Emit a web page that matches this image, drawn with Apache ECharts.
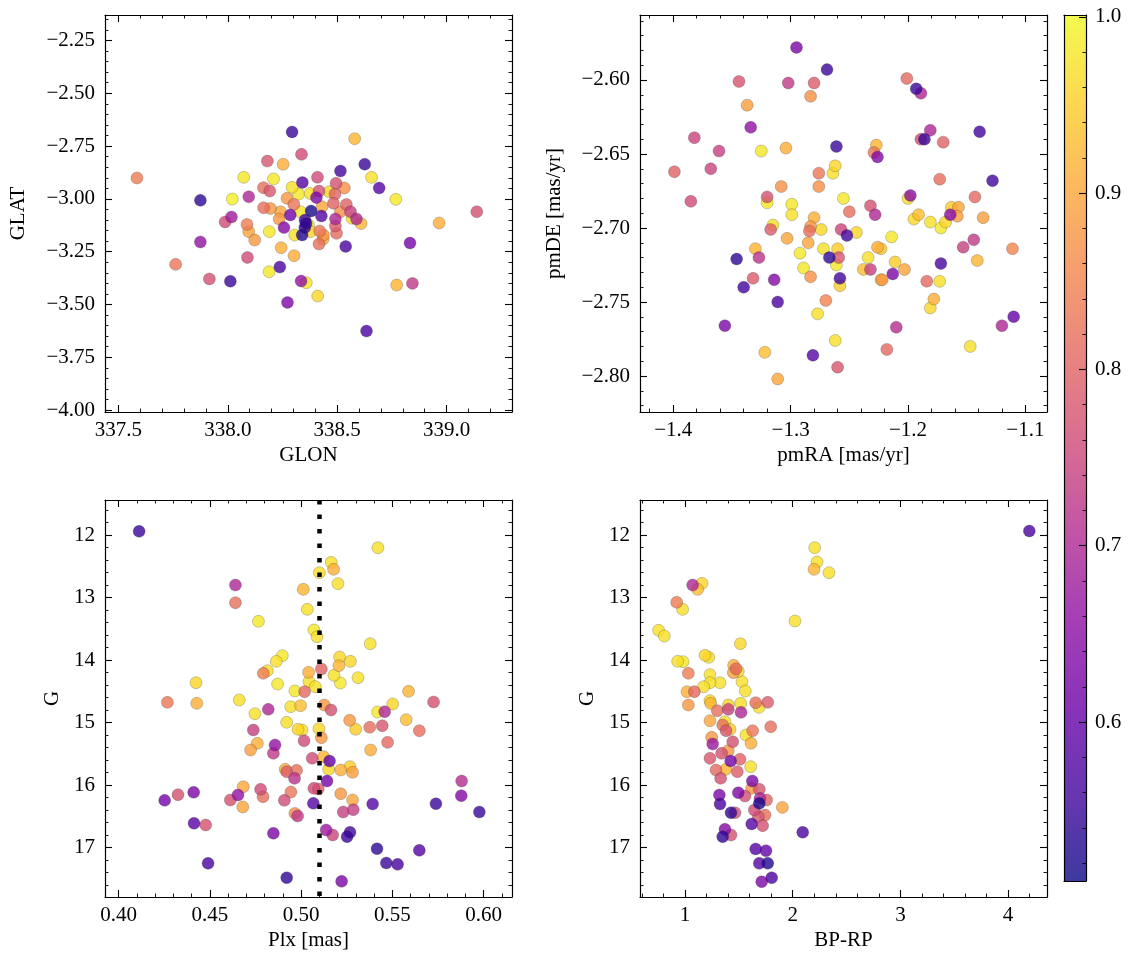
<!DOCTYPE html>
<html><head><meta charset="utf-8">
<script src="https://cdn.jsdelivr.net/npm/echarts/dist/echarts.min.js"></script>
<style>html,body{margin:0;padding:0;background:#fff}#c{width:1133px;height:965px}</style>
</head><body><div id="c"></div>
<script>
// ---------------- DATA ----------------
const P1_GLON = [337.585,338.294,338.580,338.337,338.181,338.253,338.626,338.073,338.209,338.515,
338.410,338.341,338.657,338.692,337.875,338.021,338.096,338.163,338.192,338.294,
338.324,338.271,338.417,338.495,338.533,338.490,338.463,338.768,339.138,338.966,
338.833,338.539,338.164,338.195,338.241,338.302,338.286,338.332,338.381,338.428,
338.405,338.431,338.492,338.515,338.542,338.561,338.588,338.568,338.609,338.017,
337.988,338.088,338.096,338.123,338.190,338.235,338.257,338.358,338.352,338.340,
338.306,338.378,338.420,338.436,338.417,338.497,338.492,337.875,337.762,338.090,
338.244,338.303,338.189,338.238,337.916,338.012,338.335,338.359,338.411,338.273,
338.772,338.844,338.634,338.376,338.483,338.369,338.353,338.437];
const P1_GLAT = [-2.901,-2.683,-2.715,-2.789,-2.821,-2.836,-2.836,-2.898,-2.906,-2.868,
-2.898,-2.922,-2.898,-2.948,-3.007,-3.001,-2.990,-2.947,-2.963,-2.945,
-2.977,-2.997,-2.963,-2.926,-2.948,-2.977,-2.966,-3.002,-3.061,-3.114,
-3.209,-3.225,-3.042,-3.045,-3.061,-3.026,-3.076,-3.061,-3.057,-3.081,
-2.994,-3.037,-3.095,-3.061,-3.026,-3.061,-3.095,-3.092,-3.117,-3.086,
-3.109,-3.121,-3.155,-3.195,-3.155,-3.095,-3.136,-3.116,-3.135,-3.171,
-3.171,-3.155,-3.152,-3.190,-3.214,-3.163,-3.128,-3.204,-3.310,-3.277,
-3.231,-3.269,-3.345,-3.323,-3.379,-3.390,-3.389,-3.397,-3.460,-3.490,
-3.408,-3.400,-3.626,-2.974,-3.021,-3.124,-3.100,-3.171];
const P1_PROB = [0.84,0.55,0.92,0.76,0.78,0.91,0.55,0.98,0.98,0.56,
0.76,0.58,0.97,0.58,0.54,0.99,0.70,0.82,0.78,0.97,
0.98,0.88,0.77,0.77,0.87,0.80,0.96,0.98,0.77,0.91,
0.62,0.57,0.82,0.88,0.90,0.83,0.62,0.98,0.52,0.58,
0.63,0.90,0.70,0.87,0.80,0.74,0.70,0.97,0.92,0.68,
0.76,0.84,0.90,0.88,0.98,0.88,0.64,0.54,0.55,0.53,
0.97,0.96,0.83,0.90,0.82,0.81,0.79,0.66,0.83,0.76,
0.91,0.91,0.98,0.57,0.77,0.55,0.66,0.98,0.96,0.63,
0.92,0.73,0.57,0.97,0.80,0.97,0.56,0.88];

const P2_PMRA = [-1.295,-1.269,-1.344,-1.302,-1.280,-1.283,-1.337,-1.334,-1.382,-1.361,
-1.261,-1.325,-1.304,-1.399,-1.368,-1.262,-1.264,-1.276,-1.308,-1.276,
-1.255,-1.385,-1.320,-1.320,-1.299,-1.299,-1.280,-1.250,-1.315,-1.317,
-1.283,-1.284,-1.274,-1.257,-1.252,-1.303,-1.285,-1.330,-1.292,-1.272,
-1.260,-1.346,-1.327,-1.267,-1.259,-1.261,-1.289,-1.332,-1.314,-1.283,
-1.258,-1.258,-1.340,-1.311,-1.270,-1.277,-1.356,-1.262,-1.322,-1.281,
-1.260,-1.311,-1.201,-1.193,-1.189,-1.181,-1.189,-1.186,-1.170,-1.139,
-1.227,-1.229,-1.226,-1.173,-1.128,-1.143,-1.200,-1.198,-1.232,-1.228,
-1.191,-1.195,-1.181,-1.172,-1.168,-1.163,-1.157,-1.158,-1.164,-1.136,
-1.244,-1.214,-1.226,-1.223,-1.234,-1.238,-1.232,-1.211,-1.203,-1.223,
-1.222,-1.213,-1.153,-1.144,-1.111,-1.172,-1.141,-1.184,-1.173,-1.178,
-1.181,-1.210,-1.218,-1.147,-1.120,-1.110];
const P2_PMDE = [-2.578,-2.593,-2.601,-2.602,-2.602,-2.611,-2.617,-2.632,-2.639,-2.648,
-2.645,-2.648,-2.646,-2.662,-2.660,-2.658,-2.663,-2.663,-2.672,-2.672,
-2.680,-2.682,-2.679,-2.683,-2.684,-2.691,-2.693,-2.689,-2.698,-2.701,
-2.699,-2.702,-2.701,-2.701,-2.705,-2.707,-2.710,-2.714,-2.717,-2.714,
-2.714,-2.721,-2.720,-2.720,-2.720,-2.725,-2.727,-2.734,-2.735,-2.733,
-2.734,-2.739,-2.740,-2.750,-2.749,-2.758,-2.766,-2.776,-2.784,-2.786,
-2.794,-2.802,-2.599,-2.606,-2.609,-2.634,-2.640,-2.640,-2.642,-2.635,
-2.644,-2.649,-2.652,-2.667,-2.668,-2.679,-2.680,-2.678,-2.685,-2.691,
-2.691,-2.694,-2.696,-2.700,-2.696,-2.686,-2.686,-2.692,-2.691,-2.693,
-2.703,-2.706,-2.713,-2.714,-2.720,-2.728,-2.728,-2.723,-2.728,-2.735,
-2.735,-2.731,-2.713,-2.708,-2.714,-2.724,-2.722,-2.736,-2.736,-2.748,
-2.754,-2.767,-2.782,-2.780,-2.766,-2.760];
const P2_PROB = [0.63,0.55,0.78,0.73,0.79,0.87,0.89,0.66,0.75,0.74,
0.55,0.98,0.91,0.80,0.75,0.96,0.97,0.83,0.87,0.87,
0.98,0.76,0.77,0.98,0.98,0.97,0.91,0.82,0.97,0.79,
0.88,0.82,0.96,0.75,0.56,0.90,0.90,0.92,0.98,0.97,
0.95,0.54,0.72,0.54,0.78,0.98,0.98,0.79,0.64,0.87,
0.56,0.95,0.56,0.57,0.85,0.97,0.63,0.97,0.93,0.58,
0.78,0.90,0.81,0.55,0.70,0.70,0.76,0.55,0.80,0.56,
0.92,0.83,0.64,0.82,0.56,0.81,0.97,0.65,0.77,0.70,
0.93,0.96,0.97,0.98,0.96,0.95,0.90,0.89,0.65,0.89,
0.96,0.98,0.91,0.94,0.97,0.93,0.74,0.95,0.90,0.92,
0.88,0.63,0.74,0.73,0.85,0.57,0.92,0.81,0.97,0.91,
0.96,0.71,0.81,0.97,0.70,0.60];

const P3_PLX = [0.4112,0.4640,0.4640,0.4766,0.5012,0.5034,0.5070,0.4897,0.4864,0.4815,
0.4793,0.4871,0.5041,0.5043,0.4966,0.5019,0.4424,0.4267,0.4428,0.4661,
0.4747,0.4820,0.4943,0.4997,0.4921,0.4983,0.5016,0.4738,0.4760,0.4723,
0.4857,0.4848,0.4913,0.4921,0.4975,0.4964,0.5061,0.4683,0.4778,0.4791,
0.4680,0.4654,0.4612,0.4252,0.4325,0.4411,0.4908,0.4944,0.4966,0.4981,
0.5070,0.5067,0.4413,0.4477,0.4848,0.4490,0.4921,0.5421,0.5165,0.5178,
0.5100,0.5202,0.5087,0.5379,0.5211,0.5270,0.5207,0.5180,0.5215,0.5312,
0.5111,0.5078,0.5127,0.5164,0.5589,0.5502,0.5726,0.5419,0.5458,0.5576,
0.5266,0.5299,0.5376,0.5445,0.5648,0.5474,0.5381,0.5098,0.5111,0.5005,
0.5123,0.5156,0.5151,0.5217,0.5268,0.5282,0.5142,0.5094,0.5217,0.5282,
0.5231,0.5286,0.5392,0.5739,0.5880,0.5878,0.5977,0.5137,0.5173,0.5268,
0.5252,0.5416,0.5648,0.5467,0.5529,0.5222];
const P3_G = [11.941,12.800,13.082,13.380,12.869,13.189,13.519,13.929,14.020,14.169,
14.212,14.383,14.196,14.345,14.494,14.505,14.361,14.676,14.692,14.638,
14.857,14.788,14.745,14.729,14.995,15.107,15.289,15.118,15.331,15.438,
15.358,15.491,15.747,15.784,15.763,15.891,15.571,16.024,16.067,16.184,
16.349,16.157,16.237,16.243,16.152,16.115,16.243,16.109,16.451,16.493,
16.051,16.291,16.610,16.637,16.770,17.250,17.479,12.203,12.437,12.549,
12.602,12.778,13.626,13.738,13.951,14.020,14.089,14.244,14.367,14.281,
14.143,14.425,14.718,14.798,14.500,14.702,14.670,14.830,14.825,14.953,
14.963,15.107,15.075,15.049,15.129,15.315,15.438,15.097,15.241,15.118,
15.544,15.614,15.747,15.758,15.704,15.795,15.934,16.061,16.136,16.237,
16.429,16.392,16.301,16.296,15.934,16.168,16.429,16.717,16.797,16.754,
16.824,17.016,17.042,17.245,17.266,17.538];
const P3_PROB = [0.55,0.70,0.82,0.98,0.92,0.97,0.98,0.98,0.97,0.97,
0.84,0.98,0.91,0.97,0.98,0.81,0.96,0.83,0.91,0.97,
0.97,0.70,0.97,0.93,0.97,0.96,0.76,0.74,0.91,0.89,
0.66,0.73,0.91,0.79,0.82,0.72,0.76,0.90,0.76,0.82,
0.90,0.66,0.77,0.62,0.77,0.63,0.76,0.83,0.86,0.73,
0.76,0.58,0.59,0.77,0.63,0.57,0.54,0.97,0.97,0.91,
0.97,0.97,0.97,0.97,0.96,0.96,0.92,0.97,0.98,0.97,
0.80,0.97,0.88,0.77,0.92,0.96,0.77,0.98,0.70,0.93,
0.88,0.95,0.82,0.78,0.82,0.81,0.91,0.96,0.88,0.97,
0.92,0.60,0.96,0.91,0.95,0.89,0.62,0.79,0.88,0.90,
0.74,0.74,0.58,0.55,0.71,0.64,0.55,0.67,0.75,0.56,
0.55,0.54,0.58,0.55,0.57,0.63];
const PLX_REF = 0.5088;

const P4_BPRP = [4.197,2.204,2.226,2.198,2.337,1.071,1.158,1.118,0.923,0.978,
2.021,0.755,0.808,1.514,0.932,0.981,1.186,1.220,1.452,1.474,
1.449,1.495,1.031,1.232,1.325,1.232,1.173,1.529,1.560,1.019,
1.087,1.031,1.232,1.238,1.300,1.402,1.402,1.517,1.520,1.656,
1.687,1.768,1.232,1.371,1.350,1.418,1.381,1.796,1.628,1.566,
1.613,1.248,1.257,1.443,1.340,1.402,1.232,1.424,1.511,1.610,
1.288,1.378,1.486,1.331,1.625,1.619,1.690,1.495,1.557,1.696,
1.758,1.319,1.690,1.325,1.904,1.644,1.427,1.464,1.743,1.681,
1.619,1.721,1.371,1.427,1.350,2.093,1.656,1.752,1.690,1.768,
1.805,1.712];
const P4_G = [11.936,12.203,12.432,12.549,12.602,12.800,12.773,12.869,13.077,13.189,
13.375,13.524,13.615,13.738,14.020,14.025,13.924,13.956,14.084,14.137,
14.201,14.180,14.212,14.233,14.361,14.361,14.425,14.345,14.494,14.505,
14.505,14.718,14.649,14.692,14.809,14.718,14.788,14.692,14.836,14.681,
14.756,14.676,14.969,14.985,15.038,15.107,15.129,15.065,15.129,15.198,
15.331,15.235,15.342,15.305,15.491,15.448,15.571,15.614,15.587,15.704,
15.758,15.747,15.784,15.891,15.934,16.051,16.067,16.120,16.173,16.211,
16.237,16.157,16.291,16.301,16.355,16.397,16.440,16.440,16.477,16.504,
16.621,16.648,16.706,16.797,16.824,16.754,17.021,17.047,17.250,17.250,
17.479,17.543];
const P4_PROB = [0.57,0.97,0.97,0.92,0.97,0.70,0.96,0.93,0.84,0.97,
0.97,0.97,0.97,0.96,0.97,0.98,0.96,0.97,0.91,0.81,
0.89,0.96,0.84,0.97,0.97,0.97,0.97,0.97,0.97,0.91,
0.81,0.88,0.96,0.92,0.82,0.96,0.74,0.97,0.70,0.82,
0.97,0.79,0.90,0.97,0.82,0.95,0.78,0.82,0.83,0.97,
0.91,0.88,0.67,0.77,0.77,0.88,0.78,0.62,0.80,0.97,
0.81,0.92,0.79,0.77,0.63,0.88,0.78,0.63,0.77,0.70,
0.80,0.63,0.52,0.57,0.90,0.76,0.54,0.77,0.82,0.78,
0.58,0.77,0.64,0.77,0.54,0.57,0.58,0.60,0.58,0.53,
0.57,0.63];

// tick labels
const P1_XTICKS = [337.5, 338.0, 338.5, 339.0];
const P1_YTICKS = [-2.25, -2.50, -2.75, -3.00, -3.25, -3.50, -3.75, -4.00];
const P2_XTICKS = [-1.4, -1.3, -1.2, -1.1];
const P2_YTICKS = [-2.60, -2.65, -2.70, -2.75, -2.80];
const P3_XTICKS = [0.40, 0.45, 0.50, 0.55, 0.60];
const G_TICKS = [12, 13, 14, 15, 16, 17];
const P4_XTICKS = [1, 2, 3, 4];
const CB_TICKS = [0.6, 0.7, 0.8, 0.9, 1.0];
const CB_MIN = 0.5098, CB_MAX = 1.0011;

// ---------------- STYLE / BUILD ----------------
const FONT = 'Liberation Serif';
const FS = 21;
const PLASMA = ['#0d0887','#41049d','#6a00a8','#8f0da4','#b12a90','#cc4778','#e16462','#f2844b','#fca636','#fcce25','#f0f921'];

function steps(min, max, step) {
  const out = [];
  const k0 = Math.ceil(min / step - 1e-9), k1 = Math.floor(max / step + 1e-9);
  for (let k = k0; k <= k1; k++) out.push(+(k * step).toFixed(6));
  return out;
}
function fmt(d) { return v => (v < 0 ? '\u2212' : '') + Math.abs(v).toFixed(d); }

const grids = [], xAxes = [], yAxes = [];

function axisDef(gi, pos, s, kind) {
  const minor = kind === 'minor' || kind === 'mirrorMinor';
  const main = kind === 'main';
  return {
    type: 'value', gridIndex: gi, position: pos, min: s.min, max: s.max, inverse: !!s.inverse,
    axisLine: { show: !minor, onZero: false, lineStyle: { color: '#000', width: 1.2 } },
    axisTick: { show: true, inside: true, length: minor ? 3.5 : 7,
      customValues: minor ? steps(s.min, s.max, s.minor) : s.majors,
      lineStyle: { color: '#000', width: minor ? 0.9 : 1.1 } },
    minorTick: { show: false },
    axisLabel: main ? { show: true, customValues: s.majors, formatter: fmt(s.dec), margin: s.margin,
      color: '#000', fontFamily: FONT, fontSize: FS } : { show: false },
    splitLine: { show: false },
    name: main ? s.name : '', nameLocation: 'middle', nameGap: s.nameGap,
    nameTextStyle: { color: '#000', fontFamily: FONT, fontSize: FS },
    silent: true, z: 3
  };
}

function addPanel(grid, xs, ys) {
  const gi = grids.length;
  grids.push(Object.assign({ containLabel: false, show: false }, grid));
  const xi = xAxes.length, yi = yAxes.length;
  xAxes.push(axisDef(gi, 'bottom', xs, 'main'));
  xAxes.push(axisDef(gi, 'bottom', xs, 'minor'));
  xAxes.push(axisDef(gi, 'top', xs, 'mirror'));
  xAxes.push(axisDef(gi, 'top', xs, 'mirrorMinor'));
  yAxes.push(axisDef(gi, 'left', ys, 'main'));
  yAxes.push(axisDef(gi, 'left', ys, 'minor'));
  yAxes.push(axisDef(gi, 'right', ys, 'mirror'));
  yAxes.push(axisDef(gi, 'right', ys, 'mirrorMinor'));
  return { xi, yi };
}

const p1 = addPanel({ left: 105, top: 15, width: 407, height: 397 },
  { min: 337.439, max: 339.299, majors: P1_XTICKS, minor: 0.1, dec: 1, name: 'GLON', nameGap: 33, margin: 8 },
  { min: -4.009, max: -2.1293, majors: P1_YTICKS, minor: 0.05, dec: 2, name: 'GLAT', nameGap: 76, margin: 10 });
const p2 = addPanel({ left: 640, top: 15, width: 407, height: 397 },
  { min: -1.4283, max: -1.0816, majors: P2_XTICKS, minor: 0.02, dec: 1, name: 'pmRA [mas/yr]', nameGap: 33, margin: 8 },
  { min: -2.8243, max: -2.5561, majors: P2_YTICKS, minor: 0.01, dec: 2, name: 'pmDE [mas/yr]', nameGap: 75, margin: 10 });
const p3 = addPanel({ left: 105, top: 500, width: 407, height: 397 },
  { min: 0.3925, max: 0.6156, majors: P3_XTICKS, minor: 0.01, dec: 2, name: 'Plx [mas]', nameGap: 33, margin: 8 },
  { min: 11.4404, max: 17.788, inverse: true, majors: G_TICKS, minor: 0.2, dec: 0, name: 'G', nameGap: 42, margin: 10 });
const p4 = addPanel({ left: 640, top: 500, width: 407, height: 397 },
  { min: 0.5822, max: 4.361, majors: P4_XTICKS, minor: 0.2, dec: 0, name: 'BP-RP', nameGap: 33, margin: 8 },
  { min: 11.4404, max: 17.788, inverse: true, majors: G_TICKS, minor: 0.2, dec: 0, name: 'G', nameGap: 42, margin: 10 });

// colorbar grid
const cbGi = grids.length;
grids.push({ left: 1064, top: 15, width: 22, height: 866, show: false, containLabel: false });
const cbX = xAxes.length;
xAxes.push({ type: 'category', gridIndex: cbGi, position: 'bottom', data: ['cb'], boundaryGap: true,
  axisLine: { show: true, lineStyle: { color: '#000', width: 1.2 } }, axisTick: { show: false }, axisLabel: { show: false }, splitLine: { show: false }, z: 3 });
xAxes.push({ type: 'category', gridIndex: cbGi, position: 'top', data: ['cb'], boundaryGap: true,
  axisLine: { show: true, lineStyle: { color: '#000', width: 1.2 } }, axisTick: { show: false }, axisLabel: { show: false }, splitLine: { show: false }, z: 3 });
const cbY = yAxes.length;
const cbAxis = { min: CB_MIN, max: CB_MAX, majors: CB_TICKS, minor: 0.02, dec: 1, name: '', nameGap: 0, margin: 9 };
yAxes.push(axisDef(cbGi, 'right', cbAxis, 'main'));
yAxes.push(axisDef(cbGi, 'right', cbAxis, 'minor'));
yAxes.push({ type: 'value', gridIndex: cbGi, position: 'left', min: CB_MIN, max: CB_MAX,
  axisLine: { show: true, onZero: false, lineStyle: { color: '#000', width: 1.2 } }, axisTick: { show: false }, axisLabel: { show: false }, splitLine: { show: false }, z: 3 });

function points(xs, ys, ps) {
  const n = Math.min(xs.length, ys.length, ps.length);
  const d = [];
  for (let i = 0; i < n; i++) d.push([xs[i], ys[i], ps[i]]);
  d.sort((a, b) => b[2] - a[2]); // lower probability drawn on top
  return d;
}
function scatter(p, data) {
  return { type: 'scatter', xAxisIndex: p.xi, yAxisIndex: p.yi, data: data, symbolSize: 12,
    itemStyle: { opacity: 0.8, borderColor: 'rgba(40,40,40,0.6)', borderWidth: 0.5 }, z: 2, silent: true };
}

const series = [
  scatter(p1, points(P1_GLON, P1_GLAT, P1_PROB)),
  scatter(p2, points(P2_PMRA, P2_PMDE, P2_PROB)),
  scatter(p3, points(P3_PLX, P3_G, P3_PROB)),
  scatter(p4, points(P4_BPRP, P4_G, P4_PROB)),
  { type: 'scatter', xAxisIndex: p3.xi, yAxisIndex: p3.yi, data: [], z: 4, silent: true,
    markLine: { silent: true, symbol: ['none', 'none'], label: { show: false }, animation: false,
      lineStyle: { color: '#000', type: [4.5, 10], width: 4.5, cap: 'butt' },
      data: [{ xAxis: PLX_REF }] } },
  { type: 'bar', xAxisIndex: cbX, yAxisIndex: cbY, stack: 'cb', data: [CB_MIN], barWidth: '100%',
    itemStyle: { color: 'rgba(0,0,0,0)' }, silent: true },
  { type: 'bar', xAxisIndex: cbX, yAxisIndex: cbY, stack: 'cb', data: [CB_MAX - CB_MIN], barWidth: '100%',
    itemStyle: { opacity: 0.8, color: new echarts.graphic.LinearGradient(0, 1, 0, 0,
      PLASMA.map((c, i) => ({ offset: i / (PLASMA.length - 1), color: c }))) }, silent: true }
];

const chart = echarts.init(document.getElementById('c'), null, { renderer: 'canvas' });
chart.setOption({
  backgroundColor: '#ffffff',
  animation: false,
  grid: grids,
  xAxis: xAxes,
  yAxis: yAxes,
  visualMap: [{ type: 'continuous', show: false, min: CB_MIN, max: CB_MAX, dimension: 2,
    seriesIndex: [0, 1, 2, 3], inRange: { color: PLASMA } }],
  series: series
});
</script></body></html>
